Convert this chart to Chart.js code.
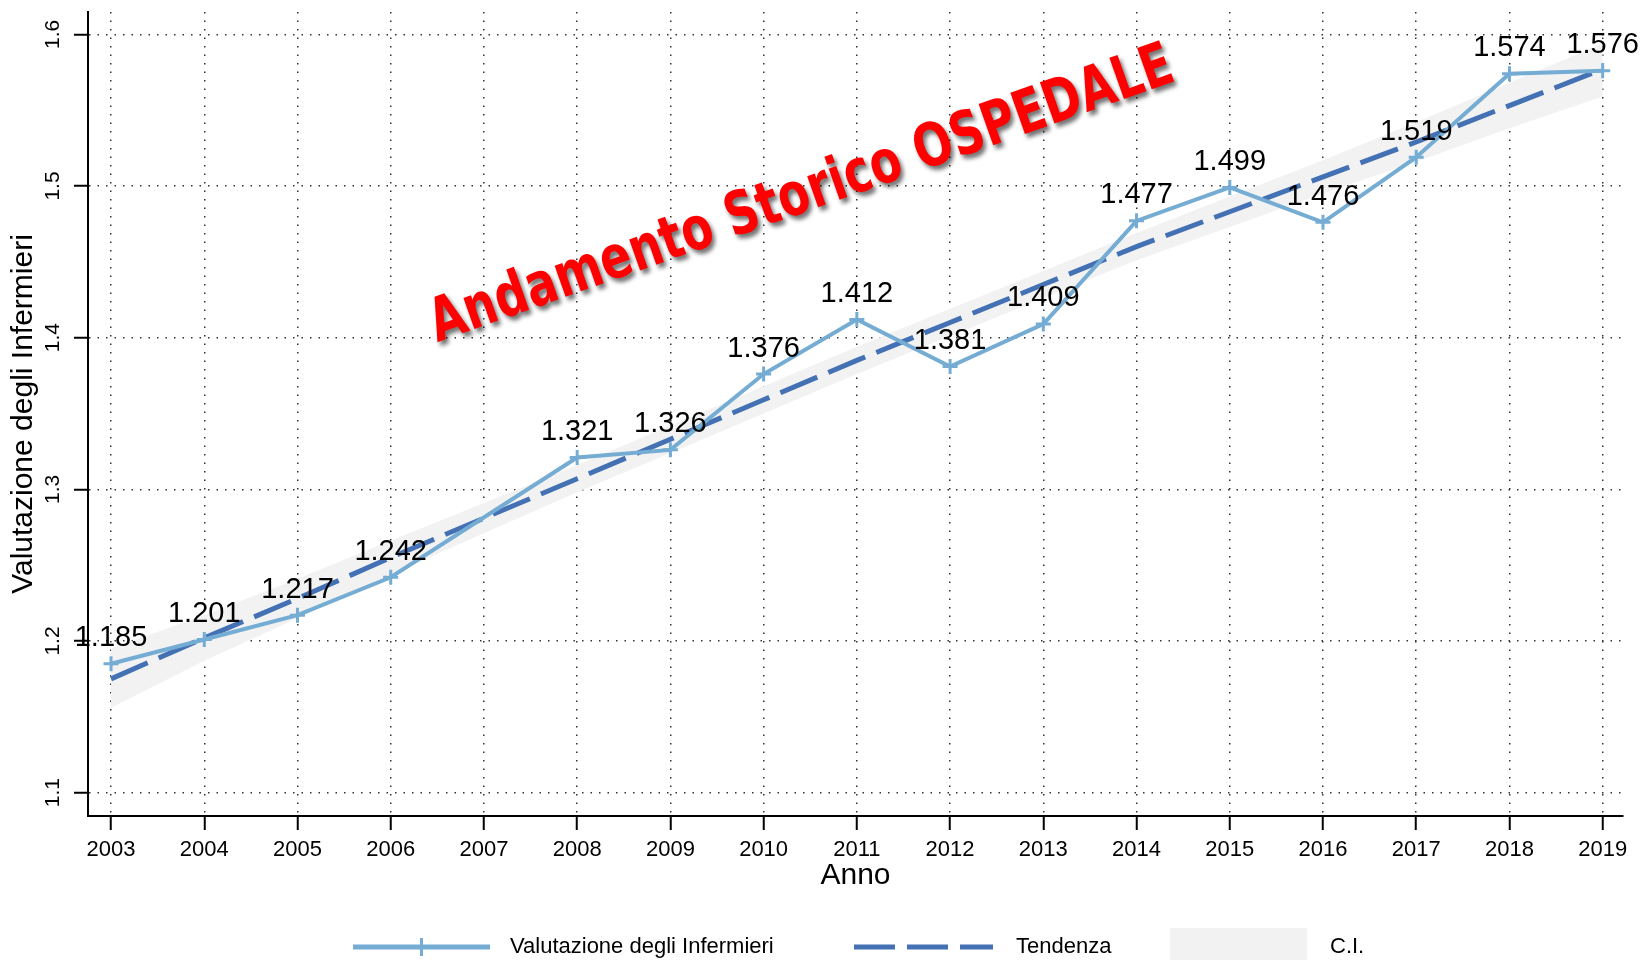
<!DOCTYPE html>
<html>
<head>
<meta charset="utf-8">
<script src="https://cdn.jsdelivr.net/npm/chart.js@4.4.1/dist/chart.umd.min.js"></script>
<style>
  html, body { margin: 0; padding: 0; background: #fff; }
  #wrap { width: 1642px; height: 960px; }
</style>
</head>
<body>
<div id="wrap"><canvas id="lineChartOsp" width="1642" height="960"></canvas></div>
<script>
// dati
var anni = [2003, 2004, 2005, 2006, 2007, 2008, 2009, 2010, 2011, 2012, 2013, 2014, 2015, 2016, 2017, 2018, 2019];
var valutazione = [1.185, 1.201, 1.217, 1.242, null, 1.321, 1.326, 1.376, 1.412, 1.381, 1.409, 1.477, 1.499, 1.476, 1.519, 1.574, 1.576];
var tendenza = [1.175, 1.202, 1.228, 1.255, 1.281, 1.307, 1.333, 1.359, 1.385, 1.410, 1.435, 1.460, 1.483, 1.506, 1.529, 1.553, 1.577];
var ciSup = [1.195, 1.217, 1.241, 1.266, 1.291, 1.316, 1.342, 1.368, 1.394, 1.419, 1.444, 1.469, 1.493, 1.517, 1.542, 1.568, 1.594];
var ciInf = [1.156, 1.187, 1.215, 1.244, 1.271, 1.298, 1.324, 1.350, 1.376, 1.401, 1.426, 1.451, 1.473, 1.495, 1.516, 1.538, 1.559];
var tickY = [1.1, 1.2, 1.3, 1.4, 1.5, 1.6];
var tickX = anni;
var titolo = "Andamento Storico OSPEDALE";
var legenda = ["Valutazione degli Infermieri", "Tendenza", "C.I."];

var colSerie = "#74acd3";
var colTrend = "#4371b4";
var colCI = "#f2f2f2";
var font = "'Liberation Sans', Arial, sans-serif";

function punti(arr) {
  return anni.map(function (a, i) { return { x: a, y: arr[i] }; });
}

// etichette sopra i punti
var etichette = {
  id: "etichette",
  afterDraw: function (chart) {
    var ctx = chart.ctx;
    var meta = chart.getDatasetMeta(0);
    ctx.save();
    ctx.font = "29px " + font;
    ctx.fillStyle = "#000";
    ctx.textAlign = "center";
    ctx.textBaseline = "alphabetic";
    meta.data.forEach(function (pt, i) {
      if (valutazione[i] == null) return;
      ctx.fillText(valutazione[i].toFixed(3), pt.x, pt.y - 17.5);
    });
    ctx.restore();
  }
};

// scritta rossa inclinata
var scritta = {
  id: "scritta",
  afterDatasetsDraw: function (chart) {
    var ctx = chart.ctx;
    var x = chart.scales.x.getPixelForValue(2006.5);
    var y = chart.scales.y.getPixelForValue(1.397);
    ctx.save();
    ctx.translate(x, y);
    ctx.rotate(-19.5 * Math.PI / 180);
    ctx.font = "bold 60px 'Comic Sans MS', 'DejaVu Sans', sans-serif";
    var w = ctx.measureText(titolo).width;
    ctx.scale(785 / w, 1);
    ctx.shadowColor = "rgba(0,0,0,0.55)";
    ctx.shadowBlur = 4;
    ctx.shadowOffsetX = 3;
    ctx.shadowOffsetY = 4;
    ctx.fillStyle = "#ff0000";
    ctx.textBaseline = "alphabetic";
    ctx.fillText(titolo, 0, 0);
    ctx.restore();
  }
};

// legenda in basso
var legendaBasso = {
  id: "legendaBasso",
  afterDraw: function (chart) {
    var ctx = chart.ctx;
    var cy = 947;
    ctx.save();
    ctx.lineCap = "butt";
    // serie
    ctx.strokeStyle = colSerie;
    ctx.lineWidth = 5;
    ctx.beginPath(); ctx.moveTo(353, cy); ctx.lineTo(490, cy); ctx.stroke();
    ctx.lineWidth = 3;
    ctx.beginPath(); ctx.moveTo(421.5, cy - 9); ctx.lineTo(421.5, cy + 9); ctx.stroke();
    // tendenza
    ctx.strokeStyle = colTrend;
    ctx.lineWidth = 5;
    ctx.setLineDash([41, 12]);
    ctx.beginPath(); ctx.moveTo(854, cy); ctx.lineTo(993, cy); ctx.stroke();
    ctx.setLineDash([]);
    // CI
    ctx.fillStyle = colCI;
    ctx.fillRect(1170, 928, 137, 38);
    // testi
    ctx.fillStyle = "#000";
    ctx.font = "22px " + font;
    ctx.textBaseline = "middle";
    ctx.textAlign = "left";
    ctx.fillText(legenda[0], 510, cy);
    ctx.fillText(legenda[1], 1016, cy);
    ctx.fillText(legenda[2], 1330, cy);
    ctx.restore();
  }
};

Chart.defaults.font.family = font;
Chart.defaults.color = "#000";

var ctxL = document.getElementById("lineChartOsp").getContext("2d");
var myLineChart = new Chart(ctxL, {
  type: "line",
  data: {
    datasets: [
      {
        label: legenda[0],
        data: punti(valutazione),
        borderColor: colSerie,
        backgroundColor: colSerie,
        borderWidth: 4,
        pointStyle: "cross",
        pointRadius: 7.5,
        pointBorderWidth: 3,
        pointBorderColor: colSerie,
        spanGaps: true,
        fill: false,
        tension: 0,
      },
      {
        label: legenda[1],
        data: punti(tendenza),
        borderColor: colTrend,
        borderWidth: 5,
        borderDash: [40, 12],
        pointRadius: 0,
        fill: false,
        tension: 0,
      },
      {
        label: legenda[2],
        data: punti(ciSup),
        borderWidth: 0,
        borderColor: colCI,
        backgroundColor: colCI,
        pointRadius: 0,
        fill: "+1",
        tension: 0,
      },
      {
        label: "ci_inf",
        data: punti(ciInf),
        borderWidth: 0,
        borderColor: colCI,
        pointRadius: 0,
        fill: false,
        tension: 0,
      },
    ],
  },
  options: {
    responsive: false,
    animation: false,
    devicePixelRatio: 1,
    layout: { padding: { left: 0, right: 19, top: 12, bottom: 60 } },
    plugins: {
      legend: { display: false },
      tooltip: { enabled: false },
    },
    scales: {
      x: {
        type: "linear",
        min: 2002.753,
        max: 2019.218,
        afterBuildTicks: function (s) { s.ticks = tickX.map(function (v) { return { value: v }; }); },
        afterFit: function (s) { s.height = 84; s.paddingLeft = 0; s.paddingRight = 0; },
        ticks: {
          callback: function (v) { return String(v); },
          font: { size: 22 },
          color: "#000",
          padding: 7,
          maxRotation: 0,
          autoSkip: false,
        },
        grid: { color: "#333", lineWidth: 1.5, tickColor: "#000", tickWidth: 2, tickLength: 14 },
        border: { display: true, color: "#000", width: 2, dash: [1.5, 7] },
        title: { display: true, text: "Anno", font: { size: 30 }, color: "#000", padding: { top: 0, bottom: 6 } },
      },
      y: {
        min: 1.0846,
        max: 1.6147,
        afterBuildTicks: function (s) { s.ticks = tickY.map(function (v) { return { value: v }; }); },
        afterFit: function (s) { s.width = 88; s.paddingTop = 0; s.paddingBottom = 0; },
        ticks: {
          callback: function (v) { return v.toFixed(1); },
          font: { size: 21 },
          color: "#000",
          padding: 6,
          minRotation: 90,
          maxRotation: 90,
          crossAlign: "center",
          autoSkip: false,
        },
        grid: { color: "#333", lineWidth: 1.5, tickColor: "#000", tickWidth: 2, tickLength: 14 },
        border: { display: true, color: "#000", width: 2, dash: [1.5, 7] },
        title: { display: true, text: "Valutazione degli Infermieri", font: { size: 30 }, color: "#000", padding: { top: 6, bottom: 0 } },
      },
    },
  },
  plugins: [scritta, etichette, legendaBasso],
});
</script>
</body>
</html>
